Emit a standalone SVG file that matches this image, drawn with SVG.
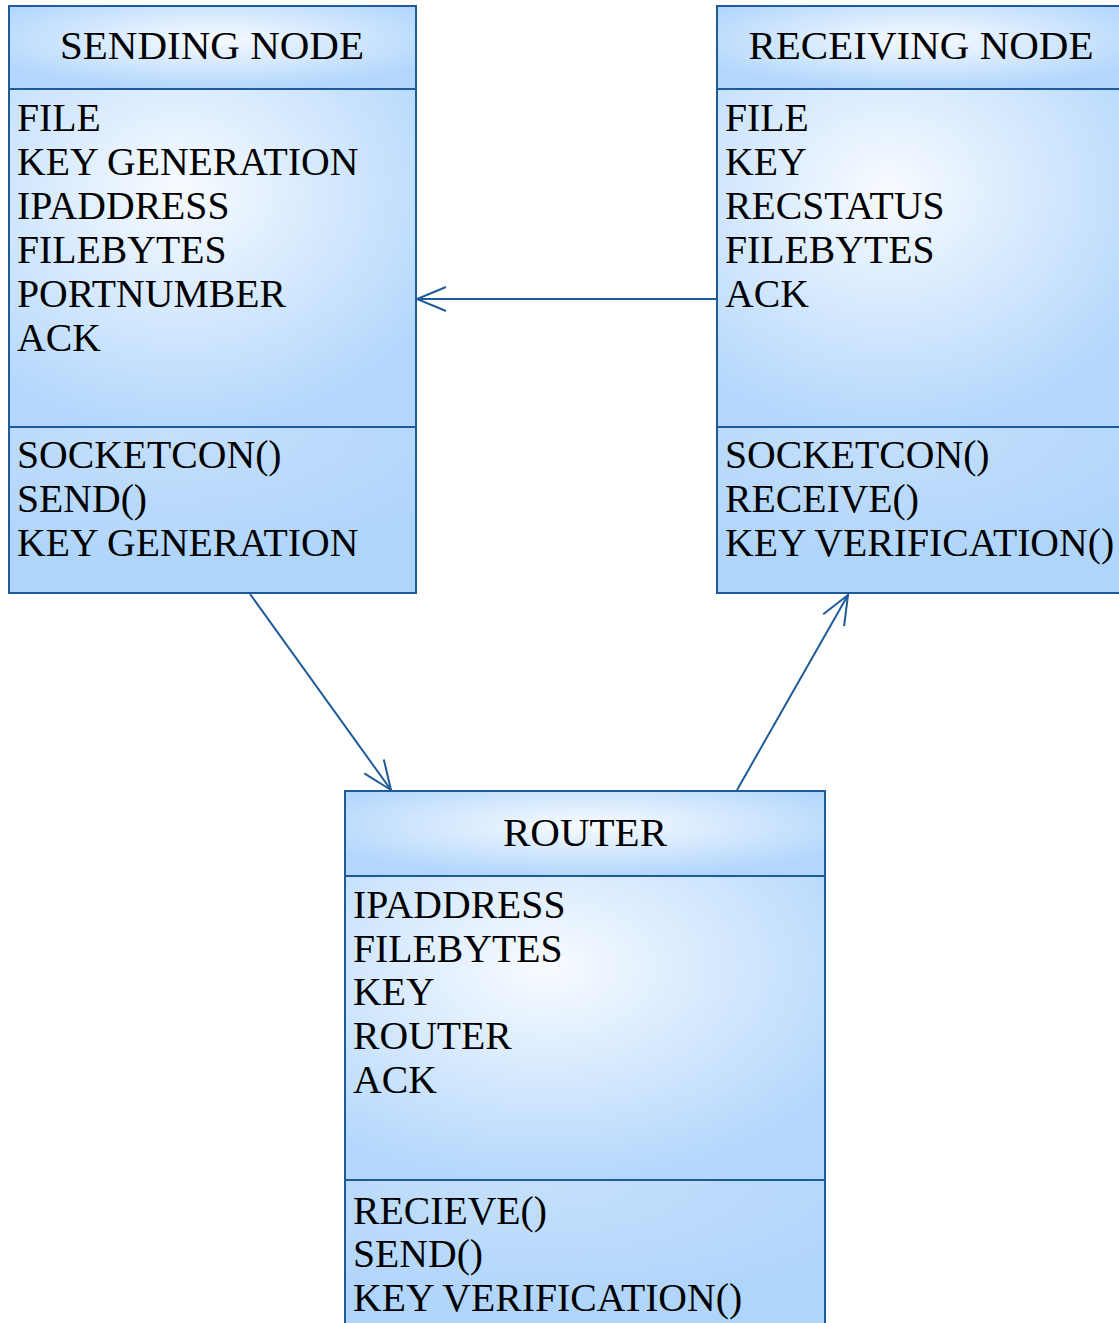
<svg xmlns="http://www.w3.org/2000/svg" width="1119" height="1323" viewBox="0 0 1119 1323">
<style>
.box{stroke:#1f5b98;stroke-width:2}
.t{font-family:'Liberation Serif','Times New Roman',serif;font-size:39.7px;fill:#000}
.h{font-family:'Liberation Serif','Times New Roman',serif;font-size:41px;fill:#000;text-anchor:middle}
.c{stroke:#1f5b98;stroke-width:2;fill:none}
</style>
<defs>
<radialGradient id="g" cx="0.42" cy="0.3" r="0.72">
<stop offset="0" stop-color="#f8fbff"/>
<stop offset="1" stop-color="#b3d7fc"/>
</radialGradient>
<radialGradient id="gh" cx="0.5" cy="0.4" r="0.6">
<stop offset="0" stop-color="#f8fbff"/>
<stop offset="1" stop-color="#b3d7fc"/>
</radialGradient>
<radialGradient id="gm" cx="0.4" cy="0" r="0.8">
<stop offset="0" stop-color="#c6e0fc"/>
<stop offset="1" stop-color="#b0d5fb"/>
</radialGradient>
<marker id="a" viewBox="-32 -16 34 32" refX="0" refY="0" markerWidth="34" markerHeight="32" markerUnits="userSpaceOnUse" orient="auto">
<path d="M-29,-12 L0,0 L-29,12" fill="none" stroke="#1f5b98" stroke-width="2"/>
</marker>
</defs>

<g id="connectors">
<line class="c" x1="717" y1="299" x2="417" y2="299" marker-end="url(#a)"/>
<line class="c" x1="250" y1="594" x2="391" y2="790" marker-end="url(#a)"/>
<line class="c" x1="737" y1="790" x2="848" y2="595" marker-end="url(#a)"/>
</g>

<g id="sending-node">
<rect class="box" x="9" y="6" width="407" height="83" fill="url(#gh)"/>
<rect class="box" x="9" y="89" width="407" height="338" fill="url(#g)"/>
<rect class="box" x="9" y="427" width="407" height="166" fill="url(#gm)"/>
<text class="h" x="212" y="59">SENDING NODE</text>
<text class="t" x="17" y="131">FILE</text>
<text class="t" x="17" y="175">KEY GENERATION</text>
<text class="t" x="17" y="219">IPADDRESS</text>
<text class="t" x="17" y="263">FILEBYTES</text>
<text class="t" x="17" y="307">PORTNUMBER</text>
<text class="t" x="17" y="351">ACK</text>
<text class="t" x="17" y="468">SOCKETCON()</text>
<text class="t" x="17" y="512">SEND()</text>
<text class="t" x="17" y="556">KEY GENERATION</text>
</g>

<g id="receiving-node">
<rect class="box" x="717" y="6" width="408" height="83" fill="url(#gh)"/>
<rect class="box" x="717" y="89" width="408" height="338" fill="url(#g)"/>
<rect class="box" x="717" y="427" width="408" height="166" fill="url(#gm)"/>
<text class="h" x="921" y="59">RECEIVING NODE</text>
<text class="t" x="725" y="131">FILE</text>
<text class="t" x="725" y="175">KEY</text>
<text class="t" x="725" y="219">RECSTATUS</text>
<text class="t" x="725" y="263">FILEBYTES</text>
<text class="t" x="725" y="307">ACK</text>
<text class="t" x="725" y="468">SOCKETCON()</text>
<text class="t" x="725" y="512">RECEIVE()</text>
<text class="t" x="725" y="556">KEY VERIFICATION()</text>
</g>

<g id="router">
<rect class="box" x="345" y="791" width="480" height="85" fill="url(#gh)"/>
<rect class="box" x="345" y="876" width="480" height="304" fill="url(#g)"/>
<rect class="box" x="345" y="1180" width="480" height="160" fill="url(#gm)"/>
<text class="h" x="585" y="846">ROUTER</text>
<text class="t" x="353" y="918">IPADDRESS</text>
<text class="t" x="353" y="962">FILEBYTES</text>
<text class="t" x="353" y="1005">KEY</text>
<text class="t" x="353" y="1049">ROUTER</text>
<text class="t" x="353" y="1093">ACK</text>
<text class="t" x="353" y="1224">RECIEVE()</text>
<text class="t" x="353" y="1267">SEND()</text>
<text class="t" x="353" y="1311">KEY VERIFICATION()</text>
</g>
</svg>
